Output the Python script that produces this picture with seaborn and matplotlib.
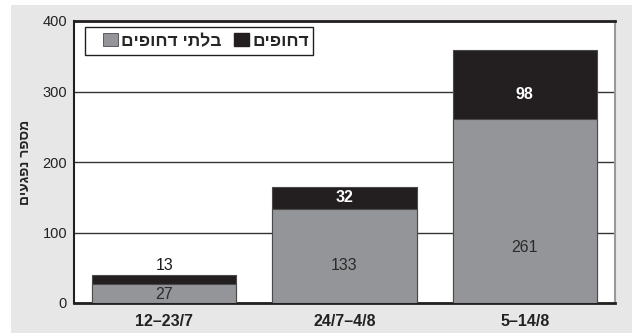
import matplotlib
matplotlib.use("Agg")
import matplotlib.pyplot as plt
from matplotlib.patches import Patch, Rectangle
import seaborn as sns
import pandas as pd

# Data
periods = ["12\u201323/7", "24/7\u20134/8", "5\u201314/8"]
non_urgent = [27, 133, 261]   # בלתי דחופים
urgent = [13, 32, 98]         # דחופים
y_ticks = [0, 100, 200, 300, 400]

label_non_urgent = "בלתי דחופים"
label_urgent = "דחופים"
y_title = "מספר נפגעים"

# where inside each segment the value text sits (fraction of segment height)
gray_text_frac = [0.45, 0.40, 0.30]
black_text_frac = [None, 0.50, 0.35]


def rtl(s):
    """Hebrew is drawn left-to-right by matplotlib, so reverse visual order."""
    return s[::-1]


GRAY = "#939598"
BLACK = "#231f20"
PANEL = "#e6e7e6"

sns.set_theme(style="white")
plt.rcParams["font.family"] = ["Liberation Sans", "DejaVu Sans"]

df = pd.DataFrame({"period": periods, "non_urgent": non_urgent, "urgent": urgent})
df["total"] = df["non_urgent"] + df["urgent"]

fig = plt.figure(figsize=(6.32, 3.33), dpi=100)
fig.patch.set_facecolor("white")
fig.patches.append(Rectangle((11 / 632, 0), 1, 1 - 5 / 333, transform=fig.transFigure,
                             facecolor=PANEL, edgecolor="none", zorder=-10))

ax = fig.add_axes([74 / 632, 1 - 303 / 333, (615 - 74) / 632, (303 - 21) / 333])
ax.set_facecolor("white")

sns.barplot(data=df, x="period", y="total", color=BLACK, saturation=1, width=0.8,
            errorbar=None, edgecolor="#4a4a4a", linewidth=0.8, ax=ax, zorder=3)
sns.barplot(data=df, x="period", y="non_urgent", color=GRAY, saturation=1, width=0.8,
            errorbar=None, edgecolor="#4a4a4a", linewidth=0.8, ax=ax, zorder=4)

ax.set_ylim(0, 400)
ax.set_xlim(-0.5, len(periods) - 0.5)
ax.set_yticks(y_ticks)
ax.yaxis.grid(True, color="#333333", linewidth=1.0)
ax.set_axisbelow(True)

ax.tick_params(axis="both", length=0)
ax.tick_params(axis="y", pad=5, labelsize=10.5, labelcolor="#222222")
ax.tick_params(axis="x", pad=8, labelsize=11.5, labelcolor="#222222")
for t in ax.get_xticklabels():
    t.set_fontweight("bold")

ax.set_xlabel("")
ax.set_ylabel(rtl(y_title), fontsize=10, fontweight="bold", color="#222222")
ax.yaxis.set_label_coords(-0.078, 0.5)

for side in ["top", "bottom"]:
    ax.spines[side].set_color(BLACK)
    ax.spines[side].set_linewidth(2.0)
ax.spines["left"].set_color(BLACK)
ax.spines["left"].set_linewidth(1.5)
ax.spines["right"].set_color("#9a9a9a")
ax.spines["right"].set_linewidth(1.5)

# value labels
for i, (nu, u) in enumerate(zip(non_urgent, urgent)):
    ax.text(i, nu * gray_text_frac[i], str(nu), ha="center", va="center",
            fontsize=11.5, color="#2a2a2a", zorder=6)
    if black_text_frac[i] is None:
        ax.text(i, nu + u + 3, str(u), ha="center", va="bottom",
                fontsize=11.5, color="#1a1a1a", zorder=6)
    else:
        ax.text(i, nu + u * black_text_frac[i], str(u), ha="center", va="center",
                fontsize=11.5, fontweight="semibold", color="white", zorder=6)

# legend: boxed, wider than its contents
ax.add_patch(Rectangle((11 / 541, (303 - 55) / 282), 228 / 541, 28 / 282,
                       transform=ax.transAxes, facecolor="white", edgecolor=BLACK,
                       linewidth=1.0, zorder=9))
handles = [Patch(facecolor=GRAY, edgecolor="#4a4a4a", linewidth=0.6),
           Patch(facecolor=BLACK, edgecolor=BLACK)]
leg = ax.legend(handles, [rtl(label_non_urgent), rtl(label_urgent)], ncol=2,
                loc="center left", bbox_to_anchor=(29 / 541, (303 - 41) / 282),
                frameon=False, handlelength=0.85, handleheight=0.8,
                handletextpad=0.2, columnspacing=0.7, borderpad=0,
                borderaxespad=0, prop={"size": 12.5, "weight": "bold"})
leg.set_zorder(10)

fig.savefig("out.png", dpi=100, facecolor=fig.get_facecolor())
